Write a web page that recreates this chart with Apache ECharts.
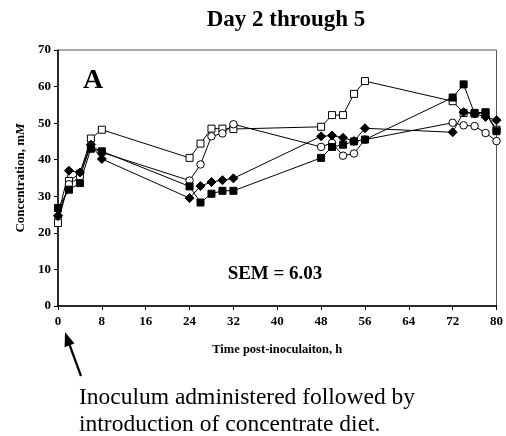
<!DOCTYPE html>
<html>
<head>
<meta charset="utf-8">
<script src="https://cdn.jsdelivr.net/npm/echarts@6/dist/echarts.min.js"></script>
<style>
html,body{margin:0;padding:0;background:#fff;}
#c{width:506px;height:436px;}
</style>
</head>
<body>
<div id="c"></div>
<script>
var hours = [0, 2, 4, 6, 8, 24, 26, 28, 30, 32, 48, 50, 52, 54, 56, 72, 74, 76, 78, 80];
var openSquare   = [22.7, 34.2, 36.2, 45.8, 48.2, 40.5, 44.4, 48.5, 48.5, 48.4, 49.0, 52.2, 52.2, 58.0, 61.5, 56.0, 52.8, 52.8, 53.0, 48.2];
var openCircle   = [24.5, 33.3, 35.3, 44.0, 42.0, 34.3, 38.7, 46.4, 47.2, 49.7, 43.5, 44.6, 41.1, 41.7, 45.5, 50.1, 49.4, 49.2, 47.3, 45.1];
var filledDiamond= [24.7, 37.0, 36.5, 44.1, 40.2, 29.5, 32.8, 33.9, 34.4, 34.9, 46.4, 46.6, 46.0, 45.1, 48.6, 47.5, 53.0, 52.6, 51.7, 50.8];
var filledSquare = [26.8, 31.8, 33.6, 43.0, 42.3, 32.7, 28.3, 30.7, 31.5, 31.5, 40.5, 43.5, 44.1, 45.0, 45.5, 57.0, 60.6, 52.6, 52.8, 47.8];

var titleText = 'Day 2 through 5';
var panelLabel = 'A';
var semText = 'SEM = 6.03';
var xName = 'Time post-inoculaiton, h';
var noteLines = ['Inoculum administered followed by', 'introduction of concentrate diet.'];

function pairs(ys){ return hours.map(function(h,i){ return [h, ys[i]]; }); }

var serif = '"Liberation Serif", "Times New Roman", serif';

function mk(name, data, symbol, filled, size){
  return {
    name: name, type: 'line', data: pairs(data),
    symbol: symbol, symbolSize: size, showSymbol: true,
    lineStyle: {color: '#000', width: 1},
    itemStyle: {color: filled ? '#000' : '#fff', borderColor: '#000', borderWidth: 1},
    emphasis: {disabled: true},
    animation: false
  };
}

var chart = echarts.init(document.getElementById('c'), null, {renderer: 'canvas'});
chart.setOption({
  animation: false,
  backgroundColor: '#fff',
  title: {
    text: titleText, left: 281, top: 4, textAlign: 'center',
    textStyle: {fontFamily: serif, fontWeight: 'bold', fontSize: 23, color: '#000'}
  },
  grid: {left: 58, right: 7, top: 50, bottom: 130, show: true, borderColor: '#555', borderWidth: 1, backgroundColor: 'transparent'},
  xAxis: {
    type: 'value', min: 0, max: 80, interval: 8,
    name: xName, nameLocation: 'middle', nameGap: 37,
    nameTextStyle: {fontFamily: serif, fontWeight: 'bold', fontSize: 12.5, color: '#000'},
    axisLine: {lineStyle: {color: '#000', width: 1.5}},
    axisTick: {show: true, inside: false, length: 4, lineStyle: {color: '#000'}},
    axisLabel: {fontFamily: serif, fontWeight: 'bold', fontSize: 13, color: '#000', margin: 9},
    splitLine: {show: false}
  },
  yAxis: {
    type: 'value', min: 0, max: 70, interval: 10,
    name: '{a|Concentration, m}{b|M}', nameLocation: 'middle', nameGap: 28, nameRotate: 90,
    nameTextStyle: {
      fontFamily: serif, fontWeight: 'bold', fontSize: 13, color: '#000',
      rich: {
        a: {fontFamily: serif, fontWeight: 'bold', fontSize: 13, color: '#000'},
        b: {fontFamily: serif, fontWeight: 'bold', fontStyle: 'italic', fontSize: 13, color: '#000'}
      }
    },
    axisLine: {show: true, lineStyle: {color: '#000', width: 1.5}},
    axisTick: {show: true, inside: false, length: 4, lineStyle: {color: '#000'}},
    axisLabel: {fontFamily: serif, fontWeight: 'bold', fontSize: 13, color: '#000', margin: 7},
    splitLine: {show: false}
  },
  series: [
    mk('open square', openSquare, 'rect', false, 7),
    mk('open circle', openCircle, 'circle', false, 7.5),
    mk('filled diamond', filledDiamond, 'diamond', true, 9),
    mk('filled square', filledSquare, 'rect', true, 7)
  ],
  graphic: [
    {type: 'text', left: 83, top: 67, style: {text: panelLabel, fontFamily: serif, fontWeight: 'bold', fontSize: 28, fill: '#000'}},
    {type: 'text', x: 275, y: 274, style: {text: semText, fontFamily: serif, fontWeight: 'bold', fontSize: 19, fill: '#000', textAlign: 'center', textVerticalAlign: 'middle'}},
    {type: 'line', shape: {x1: 81, y1: 376, x2: 69.6, y2: 345}, style: {stroke: '#000', lineWidth: 2.2}},
    {type: 'polygon', shape: {points: [[65, 332], [74.5, 343.5], [64.6, 347.2]]}, style: {fill: '#000'}},
    {type: 'text', x: 79, y: 398, style: {text: noteLines[0], fontFamily: serif, fontSize: 23.5, fill: '#000', textVerticalAlign: 'middle'}},
    {type: 'text', x: 79, y: 425, style: {text: noteLines[1], fontFamily: serif, fontSize: 23.5, fill: '#000', textVerticalAlign: 'middle'}}
  ]
});
</script>
</body>
</html>
